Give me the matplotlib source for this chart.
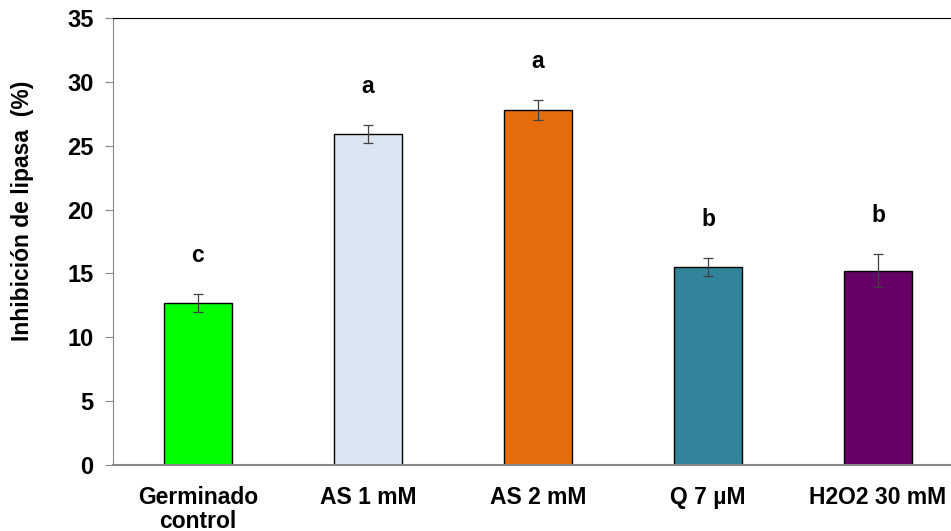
import matplotlib
matplotlib.use("Agg")
import matplotlib.pyplot as plt

# data
categories = ["Germinado\ncontrol", "AS 1 mM", "AS 2 mM", "Q 7 µM", "H2O2 30 mM"]
values = [12.7, 25.9, 27.8, 15.5, 15.2]
errors = [0.7, 0.7, 0.8, 0.7, 1.3]
letters = ["c", "a", "a", "b", "b"]
colors = ["#00FF00", "#DCE6F2", "#E46C0A", "#31849B", "#660066"]

plt.rcParams['font.family'] = ['Liberation Sans', 'DejaVu Sans']

fig = plt.figure(figsize=(9.51, 5.31), dpi=100)
ax = fig.add_axes([113/951, 1 - 465/531, 850/951, (465-18)/531])

x = range(len(categories))
ax.bar(x, values, width=0.405, color=colors, edgecolor="black", linewidth=1.0, zorder=2)
ax.errorbar(x, values, yerr=errors, fmt="none", ecolor="#404040", elinewidth=0.9,
            capsize=3.5, capthick=0.9, zorder=3)

for i, (v, e, l) in enumerate(zip(values, errors, letters)):
    ax.text(i, v + e + 3.0, l, ha="center", va="center", fontsize=16.5, fontweight="bold")

ax.set_xlim(-0.5, 4.5)
ax.set_ylim(0, 35)
ax.set_yticks(range(0, 36, 5))
ax.set_xticks(list(x))
ax.set_xticklabels(categories, fontsize=16.5, fontweight="bold", linespacing=1.05)
ax.tick_params(axis="x", length=0, pad=15)
ax.tick_params(axis="y", direction="out", length=6, color="#888888", labelsize=17, pad=8)
for t in ax.get_yticklabels():
    t.set_fontweight("bold")

ax.spines["top"].set_color("black")
ax.spines["left"].set_color("#888888")
ax.spines["bottom"].set_color("#888888")
ax.spines["bottom"].set_linewidth(1.5)
ax.spines["right"].set_visible(False)

ax.set_ylabel("Inhibición de lipasa  (%)", fontsize=16.5, fontweight="bold")
ax.yaxis.set_label_coords(-0.093, 0.568)

fig.savefig("out.png", dpi=100)
